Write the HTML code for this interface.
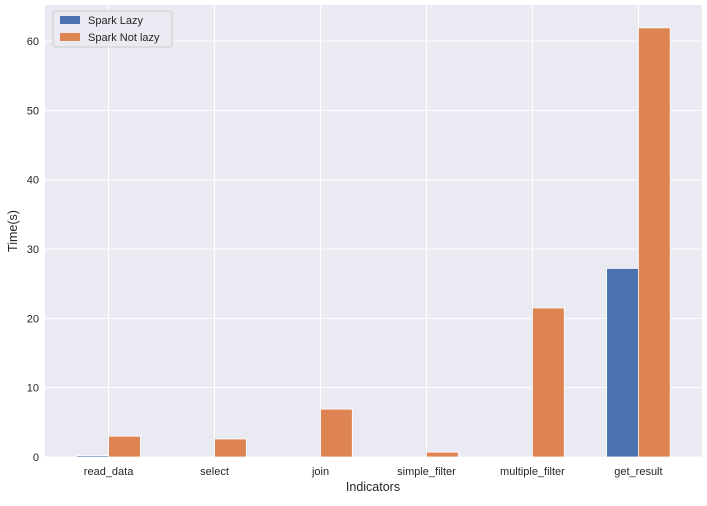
<!DOCTYPE html>
<html><head><meta charset="utf-8"><style>
body{margin:0;background:#fff;}
svg text{font-family:"Liberation Sans","DejaVu Sans",sans-serif;fill:#262626;}
</style></head><body>
<svg id="chart" width="707" height="501" xmlns="http://www.w3.org/2000/svg">
<rect x="45" y="5" width="657" height="452" fill="#eaeaf2"/>
<g id="grid"></g><g id="bars"></g><g id="labels"></g>
<text x="373" y="491" text-anchor="middle" font-size="12.5">Indicators</text>
<text transform="translate(17,231) rotate(-90)" text-anchor="middle" font-size="12.5">Time(s)</text>
<g>
<rect x="53" y="11" width="119" height="36" rx="3" fill="#eaeaf2" stroke="#cccccc" opacity="0.9"/>
<g><rect x="60" y="16" width="20" height="8" fill="#4c72b0"/><text x="88" y="24" font-size="11">Spark Lazy</text></g>
<g><rect x="60" y="33" width="20" height="8" fill="#dd8452"/><text x="88" y="41" font-size="11">Spark Not lazy</text></g>
</g>
</svg>
<script>
const categories=["read_data","select","join","simple_filter","multiple_filter","get_result"];
const lazyValues=[0.2,0,0,0,0,27.2];
const notLazyValues=[3.0,2.6,6.9,0.7,21.5,61.9];
const yTicks=[0,10,20,30,40,50,60];
const NS="http://www.w3.org/2000/svg";
const L=45,R=702,T=5,B=457;
const xs=i=>L+(i+0.6)/6.2*(R-L);
const ys=v=>B-v/65.2*(B-T);
const bw=0.3/6.2*(R-L);
function mk(tag,attrs,parent,txt){const e=document.createElementNS(NS,tag);for(const k in attrs)e.setAttribute(k,attrs[k]);if(txt!==undefined)e.textContent=txt;document.getElementById(parent).appendChild(e);return e;}
yTicks.forEach(t=>{
  const g=mk('line',{x1:L,x2:R,y1:ys(t),y2:ys(t),stroke:'#fff','stroke-width':1},'grid');
  
  
  const l=mk('text',{x:L-6,y:ys(t)+4,'text-anchor':'end','font-size':11},'labels',String(t));
  
  
});
categories.forEach((c,i)=>{
  const g=mk('line',{x1:xs(i),x2:xs(i),y1:T,y2:B,stroke:'#fff','stroke-width':1},'grid');
  
  
  const l=mk('text',{x:xs(i),y:B+18,'text-anchor':'middle','font-size':11},'labels',c);
  
  
  const b1=mk('rect',{x:xs(i)-bw,y:ys(lazyValues[i]),width:bw,height:B-ys(lazyValues[i]),fill:'#4c72b0',stroke:'#fff','stroke-width':0.8},'bars');
  
  
  const b2=mk('rect',{x:xs(i),y:ys(notLazyValues[i]),width:bw,height:B-ys(notLazyValues[i]),fill:'#dd8452',stroke:'#fff','stroke-width':0.8},'bars');
  
  
});
</script>
</body></html>
